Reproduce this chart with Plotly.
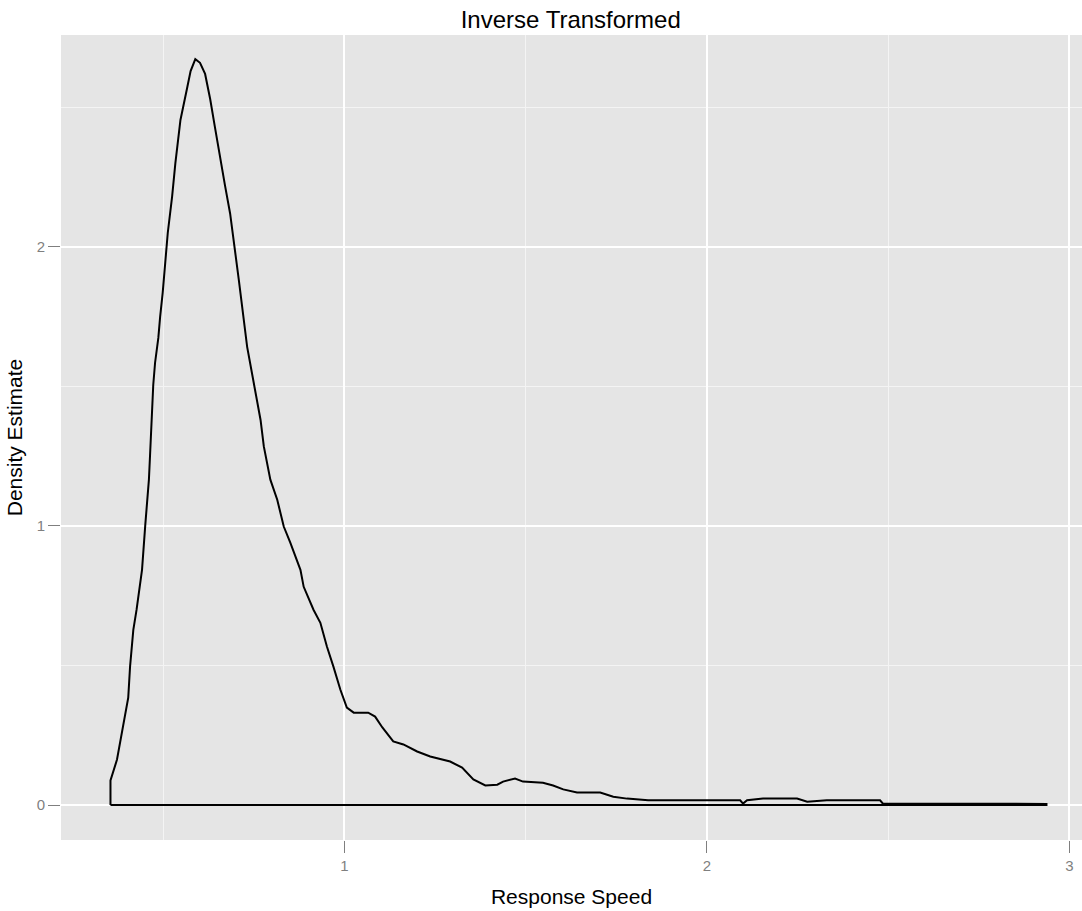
import plotly.graph_objects as go

# Kernel density estimate of response speed (inverse of response time)
speed = [0.355, 0.373, 0.390, 0.404, 0.409, 0.413, 0.418, 0.427, 0.442, 0.451,
         0.461, 0.464, 0.469, 0.473, 0.478, 0.487, 0.492, 0.499, 0.513, 0.525,
         0.534, 0.548, 0.567, 0.576, 0.589, 0.602, 0.616, 0.630, 0.643, 0.657,
         0.671, 0.685, 0.698, 0.709, 0.732, 0.750, 0.769, 0.778, 0.796, 0.815,
         0.833, 0.851, 0.879, 0.888, 0.915, 0.934, 0.952, 0.970, 0.989, 1.007,
         1.026, 1.066, 1.085, 1.105, 1.135, 1.163, 1.201, 1.237, 1.292, 1.325,
         1.356, 1.389, 1.422, 1.438, 1.471, 1.493, 1.548, 1.576, 1.604, 1.642,
         1.706, 1.742, 1.780, 1.838, 2.092, 2.100, 2.111, 2.155, 2.249, 2.277,
         2.331, 2.478, 2.486, 2.937]
density = [0.088, 0.163, 0.278, 0.385, 0.496, 0.564, 0.628, 0.700, 0.843, 1.004,
           1.166, 1.250, 1.416, 1.506, 1.585, 1.674, 1.750, 1.835, 2.050, 2.180,
           2.300, 2.455, 2.573, 2.630, 2.673, 2.660, 2.620, 2.530, 2.430, 2.320,
           2.220, 2.120, 2.000, 1.882, 1.642, 1.513, 1.380, 1.285, 1.166, 1.094,
           0.998, 0.940, 0.843, 0.782, 0.700, 0.653, 0.568, 0.496, 0.414, 0.349,
           0.331, 0.331, 0.317, 0.278, 0.228, 0.217, 0.192, 0.174, 0.156, 0.134,
           0.092, 0.070, 0.073, 0.084, 0.095, 0.084, 0.080, 0.070, 0.056, 0.045,
           0.045, 0.030, 0.023, 0.017, 0.017, 0.005, 0.017, 0.023, 0.023, 0.012,
           0.017, 0.017, 0.005, 0.004]

x_ticks = [1, 2, 3]
y_ticks = [0, 1, 2]
half_ticks = [0.5, 1.5, 2.5]

# closed outline: up from the baseline, along the curve, back along y = 0
outline_x = [speed[0]] + speed + [speed[-1], speed[0]]
outline_y = [0] + density + [0, 0]

fig = go.Figure()
fig.add_trace(go.Scatter(
    x=outline_x, y=outline_y, mode="lines",
    line=dict(color="black", width=2),
    hoverinfo="skip", showlegend=False,
))

axis_common = dict(
    showline=False, zeroline=False,
    showgrid=True, gridcolor="white", gridwidth=2,
    ticks="outside", ticklen=12, tickwidth=1, tickcolor="#7F7F7F",
    tickfont=dict(family="Liberation Sans, Arial, sans-serif", size=15, color="#7F7F7F"),
    minor=dict(tickvals=half_ticks, showgrid=True, gridcolor="#F4F4F4",
               gridwidth=1, ticks=""),
)

fig.update_layout(
    width=1082, height=911,
    margin=dict(l=61, r=0, t=35, b=71),
    paper_bgcolor="white", plot_bgcolor="#E5E5E5",
    font=dict(family="Liberation Sans, Arial, sans-serif", color="black"),
    title=dict(text="Inverse Transformed", x=0.5275, xanchor="center",
               y=0.978, yanchor="middle",
               font=dict(size=24, color="black")),
    xaxis=dict(axis_common, range=[0.2185, 3.035], tickvals=x_ticks,
               ticktext=[str(v) for v in x_ticks],
               title=dict(text="Response Speed", font=dict(size=21), standoff=16)),
    yaxis=dict(axis_common, range=[-0.1253, 2.7595], tickvals=y_ticks,
               ticktext=[str(v) for v in y_ticks],
               title=dict(text="Density Estimate", font=dict(size=21), standoff=8)),
)

fig.write_html("out.html")
